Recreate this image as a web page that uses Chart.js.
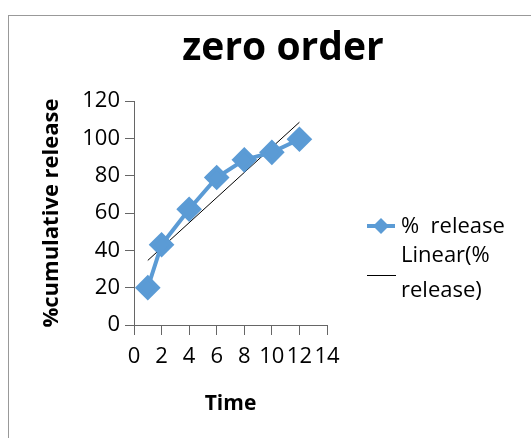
<!DOCTYPE html>
<html>
<head>
<meta charset="utf-8">
<script src="https://cdn.jsdelivr.net/npm/chart.js@4"></script>
<style>
  body { margin: 0; background: #fff; }
  #frame { position: absolute; left: 8px; top: 15px; width: 600px; height: 600px; border-left: 1px solid #999; border-top: 1px solid #999; }
  #wrap { position: absolute; left: 0; top: 0; width: 531px; height: 438px; }
</style>
</head>
<body>
<div id="frame"></div>
<div id="wrap"><canvas id="myChart"></canvas></div>
<script>
const times = [1, 2, 4, 6, 8, 10, 12];
const release = [20, 43, 62, 79, 88.5, 92.5, 99.5];
const chartTitle = 'zero order';
const seriesName = '%  release';
const trendLines = ['Linear(%', 'release)'];

// least squares fit, like the Excel trendline
const n = times.length;
const mx = times.reduce((a, b) => a + b, 0) / n;
const my = release.reduce((a, b) => a + b, 0) / n;
let sxy = 0, sxx = 0;
times.forEach((t, i) => { sxy += (t - mx) * (release[i] - my); sxx += (t - mx) * (t - mx); });
const slope = sxy / sxx;
const icpt = my - slope * mx;
const tMin = Math.min(...times), tMax = Math.max(...times);

const blue = '#5B9BD5';
const font = '"Open Sans", "Noto Sans", sans-serif';

// title + legend drawn by hand so they sit where Excel put them
const extras = {
  id: 'extras',
  afterDraw(chart) {
    const c = chart.ctx;
    const ds = chart.data.datasets;
    c.save();
    c.fillStyle = '#000';
    c.textAlign = 'center';
    c.textBaseline = 'alphabetic';
    c.font = 'bold 39px ' + font;
    c.fillText(chartTitle, 283, 60);

    c.textAlign = 'left';
    c.textBaseline = 'middle';
    c.font = '22px ' + font;
    c.strokeStyle = ds[0].borderColor;
    c.lineWidth = 4;
    c.beginPath(); c.moveTo(367, 226); c.lineTo(395, 226); c.stroke();
    c.fillStyle = ds[0].backgroundColor;
    c.beginPath(); c.moveTo(381, 218); c.lineTo(389, 226); c.lineTo(381, 234); c.lineTo(373, 226); c.closePath(); c.fill();
    c.fillStyle = '#000';
    c.fillText(ds[0].label, 401, 227);
    c.strokeStyle = '#000';
    c.lineWidth = 1;
    c.beginPath(); c.moveTo(367, 275.5); c.lineTo(396, 275.5); c.stroke();
    c.fillText(trendLines[0], 401, 256);
    c.fillText(trendLines[1], 401, 291);
    c.restore();
  }
};

new Chart(document.getElementById('myChart'), {
  type: 'scatter',
  data: {
    datasets: [{
      label: seriesName,
      data: times.map((t, i) => ({ x: t, y: release[i] })),
      showLine: true,
      borderColor: blue,
      backgroundColor: blue,
      borderWidth: 4,
      pointStyle: 'rectRot',
      pointRadius: 10,
      pointHoverRadius: 10
    }, {
      label: 'Linear(% release)',
      data: [{ x: tMin, y: icpt + slope * tMin }, { x: tMax, y: icpt + slope * tMax }],
      showLine: true,
      borderColor: '#000',
      borderWidth: 1,
      pointRadius: 0
    }]
  },
  options: {
    responsive: true,
    maintainAspectRatio: false,
    animation: false,
    layout: { padding: { left: 0, right: 204, top: 101, bottom: 0 } },
    plugins: {
      legend: { display: false },
      tooltip: { enabled: false },
      title: { display: false }
    },
    scales: {
      x: {
        type: 'linear',
        min: 0, max: 14,
        afterFit(s) { s.height = 113; },
        ticks: { stepSize: 2, autoSkip: false, maxRotation: 0, color: '#000', padding: 9, font: { family: font, size: 22 } },
        grid: { drawOnChartArea: false, drawTicks: true, tickLength: 10, color: '#666' },
        border: { color: '#666', width: 1 },
        title: { display: true, text: 'Time', color: '#000', font: { family: font, size: 21, weight: 'bold' }, padding: { top: 0, bottom: 21 } }
      },
      y: {
        min: 0, max: 120,
        afterFit(s) { s.width = 134; },
        ticks: { stepSize: 20, color: '#000', padding: 5, font: { family: font, size: 22 } },
        grid: { drawOnChartArea: false, drawTicks: true, tickLength: 9, color: '#666' },
        border: { color: '#666', width: 1 },
        title: { display: true, text: '%cumulative release', color: '#000', font: { family: font, size: 22, weight: 'bold' }, padding: { top: 39, bottom: 0 } }
      }
    }
  },
  plugins: [extras]
});
</script>
</body>
</html>
